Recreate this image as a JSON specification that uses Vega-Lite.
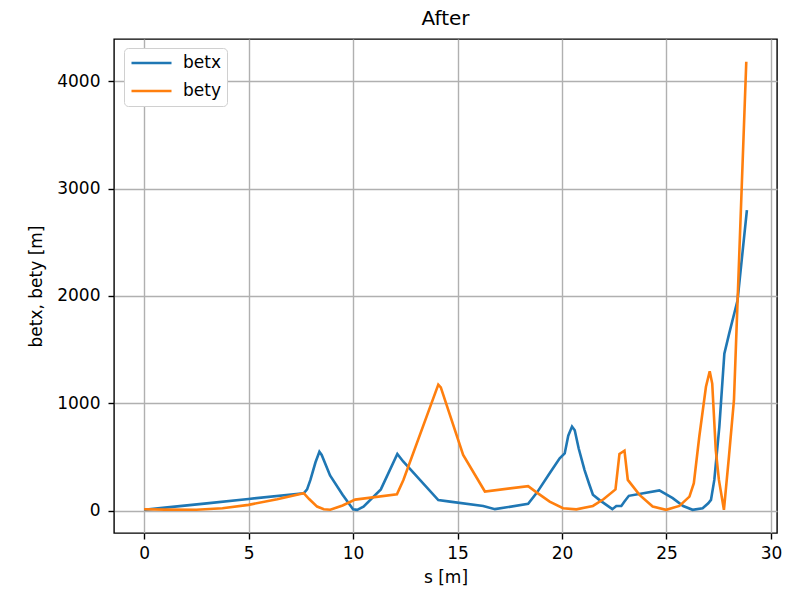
{
  "$schema": "https://vega.github.io/schema/vega-lite/v6.json",
  "width": 663,
  "height": 494,
  "autosize": {"type": "none"},
  "padding": {"left": 114, "top": 39, "right": 12, "bottom": 57},
  "background": "white",
  "title": {"text": "After", "fontSize": 20, "font": "DejaVu Sans", "fontWeight": "normal", "color": "black", "offset": 10},
  "data": {
    "values": [
      {"series": "betx", "s": 0, "beta": 10},
      {"series": "betx", "s": 1.0, "beta": 30},
      {"series": "betx", "s": 3.0, "beta": 70},
      {"series": "betx", "s": 5.0, "beta": 111},
      {"series": "betx", "s": 7.64, "beta": 164},
      {"series": "betx", "s": 7.8, "beta": 200},
      {"series": "betx", "s": 7.96, "beta": 288},
      {"series": "betx", "s": 8.2, "beta": 450},
      {"series": "betx", "s": 8.39, "beta": 550},
      {"series": "betx", "s": 8.5, "beta": 520},
      {"series": "betx", "s": 8.9, "beta": 330},
      {"series": "betx", "s": 9.5, "beta": 150},
      {"series": "betx", "s": 10.0, "beta": 15},
      {"series": "betx", "s": 10.2, "beta": 10},
      {"series": "betx", "s": 10.5, "beta": 40},
      {"series": "betx", "s": 11.33, "beta": 200},
      {"series": "betx", "s": 12.12, "beta": 530},
      {"series": "betx", "s": 12.4, "beta": 460},
      {"series": "betx", "s": 14.08, "beta": 100},
      {"series": "betx", "s": 14.64, "beta": 86},
      {"series": "betx", "s": 16.23, "beta": 46},
      {"series": "betx", "s": 16.79, "beta": 16},
      {"series": "betx", "s": 18.38, "beta": 65},
      {"series": "betx", "s": 18.8, "beta": 170},
      {"series": "betx", "s": 19.41, "beta": 350},
      {"series": "betx", "s": 19.89, "beta": 490},
      {"series": "betx", "s": 20.13, "beta": 535},
      {"series": "betx", "s": 20.3, "beta": 700},
      {"series": "betx", "s": 20.48, "beta": 785},
      {"series": "betx", "s": 20.61, "beta": 750},
      {"series": "betx", "s": 20.8, "beta": 580},
      {"series": "betx", "s": 21.08, "beta": 380},
      {"series": "betx", "s": 21.3, "beta": 250},
      {"series": "betx", "s": 21.48, "beta": 150},
      {"series": "betx", "s": 21.8, "beta": 100},
      {"series": "betx", "s": 22.41, "beta": 16},
      {"series": "betx", "s": 22.6, "beta": 46},
      {"series": "betx", "s": 22.84, "beta": 46},
      {"series": "betx", "s": 22.99, "beta": 87},
      {"series": "betx", "s": 23.2, "beta": 140},
      {"series": "betx", "s": 24.66, "beta": 190},
      {"series": "betx", "s": 25.3, "beta": 118},
      {"series": "betx", "s": 25.8, "beta": 45},
      {"series": "betx", "s": 26.25, "beta": 10},
      {"series": "betx", "s": 26.73, "beta": 25},
      {"series": "betx", "s": 27.0, "beta": 70},
      {"series": "betx", "s": 27.13, "beta": 102},
      {"series": "betx", "s": 27.29, "beta": 288},
      {"series": "betx", "s": 27.53, "beta": 782},
      {"series": "betx", "s": 27.77, "beta": 1463},
      {"series": "betx", "s": 28.0, "beta": 1650},
      {"series": "betx", "s": 28.24, "beta": 1835},
      {"series": "betx", "s": 28.4, "beta": 1958},
      {"series": "betx", "s": 28.85, "beta": 2800},
      {"series": "bety", "s": 0, "beta": 15},
      {"series": "bety", "s": 1.0, "beta": 12},
      {"series": "bety", "s": 2.5, "beta": 10},
      {"series": "bety", "s": 3.75, "beta": 25},
      {"series": "bety", "s": 5.0, "beta": 56},
      {"series": "bety", "s": 6.37, "beta": 109},
      {"series": "bety", "s": 7.64, "beta": 165},
      {"series": "bety", "s": 7.9, "beta": 110},
      {"series": "bety", "s": 8.28, "beta": 40},
      {"series": "bety", "s": 8.6, "beta": 15},
      {"series": "bety", "s": 8.91, "beta": 10},
      {"series": "bety", "s": 9.5, "beta": 50},
      {"series": "bety", "s": 10.1, "beta": 105},
      {"series": "bety", "s": 12.1, "beta": 155},
      {"series": "bety", "s": 12.41, "beta": 288},
      {"series": "bety", "s": 14.08, "beta": 1175},
      {"series": "bety", "s": 14.2, "beta": 1150},
      {"series": "bety", "s": 15.27, "beta": 520},
      {"series": "bety", "s": 16.31, "beta": 180},
      {"series": "bety", "s": 18.38, "beta": 230},
      {"series": "bety", "s": 18.8, "beta": 170},
      {"series": "bety", "s": 19.41, "beta": 86},
      {"series": "bety", "s": 20.05, "beta": 25},
      {"series": "bety", "s": 20.69, "beta": 14},
      {"series": "bety", "s": 21.48, "beta": 46},
      {"series": "bety", "s": 22.0, "beta": 110},
      {"series": "bety", "s": 22.56, "beta": 200},
      {"series": "bety", "s": 22.75, "beta": 530},
      {"series": "bety", "s": 22.99, "beta": 560},
      {"series": "bety", "s": 23.15, "beta": 288},
      {"series": "bety", "s": 23.71, "beta": 149},
      {"series": "bety", "s": 24.34, "beta": 40},
      {"series": "bety", "s": 24.98, "beta": 10},
      {"series": "bety", "s": 25.62, "beta": 46},
      {"series": "bety", "s": 26.1, "beta": 133},
      {"series": "bety", "s": 26.31, "beta": 257},
      {"series": "bety", "s": 26.57, "beta": 690},
      {"series": "bety", "s": 26.89, "beta": 1155},
      {"series": "bety", "s": 27.07, "beta": 1300},
      {"series": "bety", "s": 27.19, "beta": 1185},
      {"series": "bety", "s": 27.36, "beta": 566},
      {"series": "bety", "s": 27.51, "beta": 288},
      {"series": "bety", "s": 27.75, "beta": 10},
      {"series": "bety", "s": 27.99, "beta": 504},
      {"series": "bety", "s": 28.23, "beta": 1030},
      {"series": "bety", "s": 28.82, "beta": 4180}
    ]
  },
  "mark": {"type": "line", "strokeWidth": 2.6, "clip": true},
  "encoding": {
    "x": {
      "field": "s", "type": "quantitative",
      "scale": {"domain": [-1.44, 30.29], "nice": false, "zero": false},
      "axis": {"values": [0, 5, 10, 15, 20, 25, 30], "title": "s [m]", "labelPadding": 6, "titlePadding": 8}
    },
    "y": {
      "field": "beta", "type": "quantitative",
      "scale": {"domain": [-206, 4392], "nice": false, "zero": false},
      "axis": {"values": [0, 1000, 2000, 3000, 4000], "format": "d", "title": "betx, bety [m]", "labelPadding": 8, "titlePadding": 11}
    },
    "color": {
      "field": "series", "type": "nominal",
      "scale": {"domain": ["betx", "bety"], "range": ["#1f77b4", "#ff7f0e"]},
      "legend": {
        "title": null,
        "orient": "none",
        "legendX": 10,
        "legendY": 9,
        "symbolType": "stroke",
        "symbolSize": 1600,
        "symbolStrokeWidth": 2.6,
        "labelFontSize": 17,
        "labelFont": "DejaVu Sans",
        "labelColor": "black",
        "labelOffset": 10,
        "clipHeight": 18,
        "rowPadding": 10,
        "padding": 6,
        "fillColor": "white",
        "strokeColor": "#d0d0d0",
        "cornerRadius": 4
      }
    }
  },
  "config": {
    "view": {"stroke": "black", "strokeWidth": 1.4},
    "axis": {
      "grid": true,
      "gridColor": "#b0b0b0",
      "gridWidth": 1.4,
      "domain": false,
      "tickColor": "black",
      "tickSize": 6,
      "tickWidth": 1.4,
      "labelFont": "DejaVu Sans",
      "labelFontSize": 17,
      "labelColor": "black",
      "titleFont": "DejaVu Sans",
      "titleFontSize": 17,
      "titleFontWeight": "normal",
      "titleColor": "black"
    }
  }
}
